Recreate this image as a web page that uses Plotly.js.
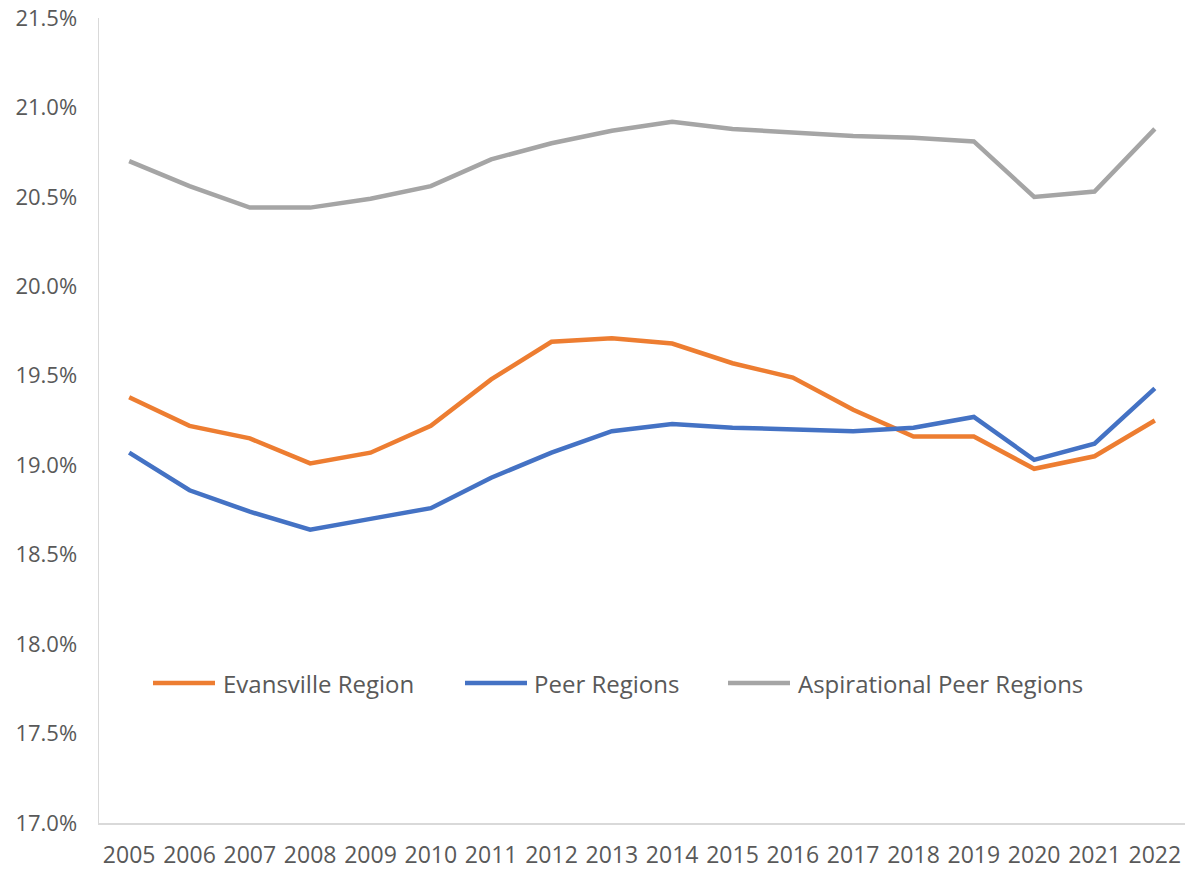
<!DOCTYPE html>
<html>
<head>
<meta charset="utf-8">
<script src="https://cdn.plot.ly/plotly-3.0.1.min.js"></script>
<style>
html,body{margin:0;padding:0;background:#fff;}
#chart{width:1186px;height:869px;}
</style>
</head>
<body>
<div id="chart"></div>
<script>
const years = ["2005","2006","2007","2008","2009","2010","2011","2012","2013","2014","2015","2016","2017","2018","2019","2020","2021","2022"];
const evansville = [19.38,19.22,19.15,19.01,19.07,19.22,19.48,19.69,19.71,19.68,19.57,19.49,19.31,19.16,19.16,18.98,19.05,19.25];
const peer = [19.07,18.86,18.74,18.64,18.70,18.76,18.93,19.07,19.19,19.23,19.21,19.20,19.19,19.21,19.27,19.03,19.12,19.43];
const aspirational = [20.70,20.56,20.44,20.44,20.49,20.56,20.71,20.80,20.87,20.92,20.88,20.86,20.84,20.83,20.81,20.50,20.53,20.88];
const seriesNames = ["Evansville Region","Peer Regions","Aspirational Peer Regions"];
const seriesColors = ["#ED7D31","#4472C4","#A5A5A5"];

const W = 1186, H = 869;
const mL = 99, mR = 1, mT = 18, mB = 46;
const pw = W - mL - mR, ph = H - mT - mB;
const px = x => (x - mL) / pw;
const py = y => (H - mB - y) / ph;

const font = "'Open Sans', 'DejaVu Sans', sans-serif";
const textColor = "#595959";

const data = [evansville, peer, aspirational].map((vals, i) => ({
  type: "scatter",
  mode: "lines",
  x: years,
  y: vals,
  name: seriesNames[i],
  line: {color: seriesColors[i], width: 4.5},
  showlegend: false,
  hoverinfo: "x+y+name"
}));

// Custom legend (positions in pixels -> paper coords)
const legendItems = [
  {x0: 153, x1: 215, tx: 221},
  {x0: 465, x1: 527, tx: 532},
  {x0: 728, x1: 790, tx: 796}
];
const legendY = 683;
const shapes = legendItems.map((it, i) => ({
  type: "line", xref: "paper", yref: "paper",
  x0: px(it.x0), x1: px(it.x1), y0: py(legendY), y1: py(legendY),
  line: {color: seriesColors[i], width: 4.5}
}));
const annotations = legendItems.map((it, i) => ({
  xref: "paper", yref: "paper",
  x: px(it.tx), y: py(legendY),
  xanchor: "left", yanchor: "middle",
  text: seriesNames[i], showarrow: false,
  font: {family: font, size: 24, color: textColor}
}));

const layout = {
  width: W, height: H,
  margin: {l: mL, r: mR, t: mT, b: mB, pad: 0},
  paper_bgcolor: "#ffffff",
  plot_bgcolor: "#ffffff",
  showlegend: false,
  xaxis: {
    type: "category",
    range: [-0.5, years.length - 0.5],
    showgrid: false,
    zeroline: false,
    showline: true,
    linecolor: "#d9d9d9",
    linewidth: 1.5,
    ticks: "",
    ticklabelstandoff: 11,
    tickfont: {family: font, size: 23, color: textColor},
    fixedrange: true
  },
  yaxis: {
    range: [17, 21.5],
    tickmode: "linear",
    tick0: 17,
    dtick: 0.5,
    tickformat: ".1f",
    ticksuffix: "%",
    showgrid: false,
    zeroline: false,
    showline: true,
    linecolor: "#d9d9d9",
    linewidth: 1.5,
    ticks: "",
    ticklabelstandoff: 16,
    tickfont: {family: font, size: 22, color: textColor},
    fixedrange: true
  },
  shapes: shapes,
  annotations: annotations
};

Plotly.newPlot("chart", data, layout, {displayModeBar: false, staticPlot: true});
</script>
</body>
</html>
